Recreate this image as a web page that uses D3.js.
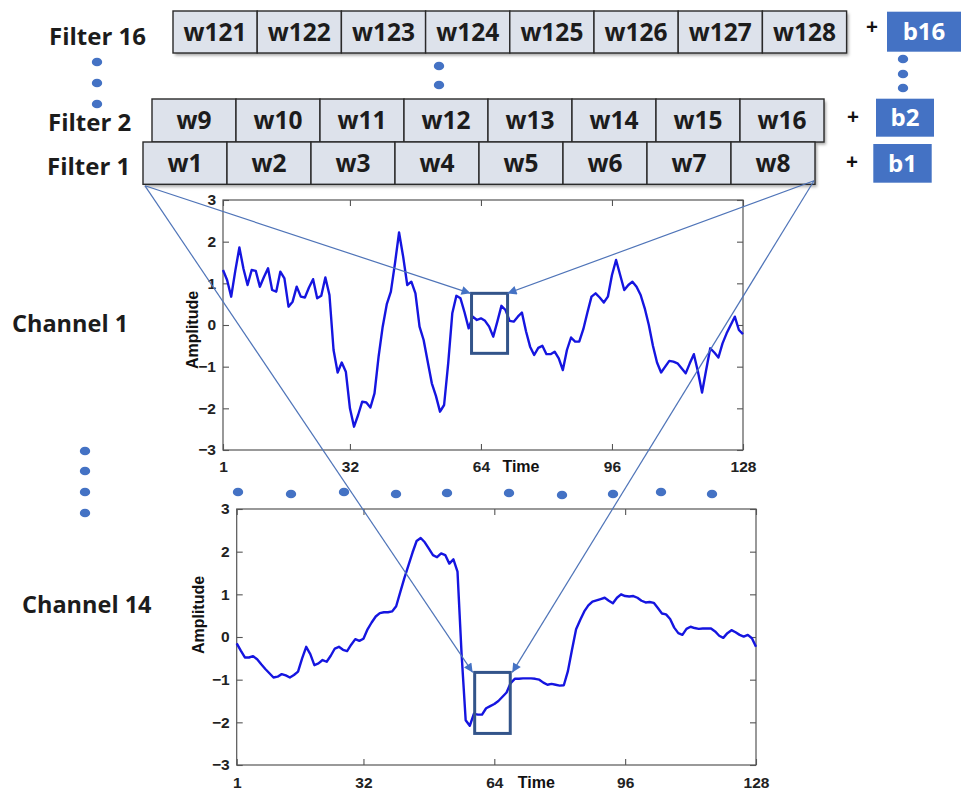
<!DOCTYPE html>
<html>
<head>
<meta charset="utf-8">
<script src="https://cdn.jsdelivr.net/npm/d3@7"></script>
<style>
  html, body { margin: 0; padding: 0; background: #fff; }
  svg { display: block; }
</style>
</head>
<body>
<svg id="chart" width="961" height="790"></svg>
<script>
// ---------------- DATA ----------------
const timeTicks = [1, 32, 64, 96, 128];
const ampTicks = [-3, -2, -1, 0, 1, 2, 3];

const filter1Weights = ["w1", "w2", "w3", "w4", "w5", "w6", "w7", "w8"];
const filter2Weights = ["w9", "w10", "w11", "w12", "w13", "w14", "w15", "w16"];
const filter16Weights = ["w121", "w122", "w123", "w124", "w125", "w126", "w127", "w128"];
const filterNames = ["Filter 16", "Filter 2", "Filter 1"];
const biasNames = ["b16", "b2", "b1"];
const channelNames = ["Channel 1", "Channel 14"];

const channel1 = [
  1.32, 1.08, 0.68, 1.30, 1.86, 1.35, 0.96, 1.32, 1.30, 0.92,
  1.15, 1.36, 0.84, 0.80, 1.28, 1.12, 0.44, 0.56, 0.92, 0.68,
  0.66, 0.90, 1.10, 0.64, 0.70, 1.14, 0.72, -0.60, -1.14, -0.90,
  -1.12, -2.00, -2.44, -2.16, -1.84, -1.86, -1.98, -1.64, -0.76, -0.04,
  0.50, 0.80, 1.48, 2.22, 1.64, 0.96, 1.04, 0.76, -0.04, -0.36,
  -0.88, -1.40, -1.70, -2.08, -1.92, -0.92, 0.28, 0.70, 0.64, 0.30,
  -0.08, 0.20, 0.12, 0.16, 0.10, -0.04, -0.28, 0.08, 0.46, 0.36,
  0.10, 0.08, 0.20, 0.30, -0.15, -0.52, -0.72, -0.55, -0.50, -0.70,
  -0.70, -0.64, -0.80, -1.08, -0.60, -0.30, -0.40, -0.40, -0.10, 0.30,
  0.68, 0.76, 0.66, 0.54, 0.68, 1.20, 1.56, 1.20, 0.84, 0.96,
  1.04, 0.92, 0.72, 0.40, 0.00, -0.50, -0.90, -1.14, -1.00, -0.86,
  -0.88, -0.92, -1.04, -1.16, -0.92, -0.70, -1.12, -1.62, -1.08, -0.56,
  -0.66, -0.78, -0.44, -0.20, 0.00, 0.20, -0.12, -0.22
];

const channel14 = [
  -0.15, -0.32, -0.48, -0.48, -0.45, -0.52, -0.64, -0.75, -0.85, -0.95,
  -0.93, -0.87, -0.90, -0.95, -0.89, -0.81, -0.50, -0.23, -0.40, -0.66,
  -0.62, -0.54, -0.58, -0.44, -0.27, -0.23, -0.30, -0.33, -0.18, -0.05,
  -0.09, -0.04, 0.18, 0.34, 0.48, 0.56, 0.58, 0.58, 0.60, 0.72,
  1.05, 1.38, 1.68, 1.98, 2.25, 2.32, 2.22, 2.07, 1.92, 1.87,
  1.96, 1.92, 1.72, 1.82, 1.53, -0.40, -1.95, -2.08, -1.80, -1.82,
  -1.82, -1.67, -1.62, -1.57, -1.50, -1.40, -1.30, -1.08, -0.98, -0.98,
  -0.97, -0.97, -0.97, -0.98, -1.00, -1.07, -1.12, -1.10, -1.12, -1.14,
  -1.13, -0.80, -0.30, 0.18, 0.40, 0.60, 0.74, 0.83, 0.86, 0.89,
  0.92, 0.85, 0.79, 0.92, 1.00, 0.96, 0.95, 0.96, 0.92, 0.85,
  0.81, 0.82, 0.80, 0.68, 0.55, 0.53, 0.42, 0.22, 0.09, 0.05,
  0.19, 0.24, 0.21, 0.19, 0.20, 0.20, 0.20, 0.13, 0.03, -0.02,
  0.09, 0.16, 0.11, 0.05, 0.01, 0.05, -0.03, -0.23
];

// receptive-field windows [tStart, tEnd, ampLow, ampHigh]
const window1 = [61.7, 70.5, -0.68, 0.76];
const window14 = [59.2, 67.9, -2.26, -0.83];

// ---------------- LAYOUT ----------------
const svg = d3.select("#chart");
const FONT = "'Open Sans', 'Noto Sans', sans-serif";
const AXFONT = "'Liberation Sans', Arial, sans-serif";
const BLUE = "#4472c4";
const LINEBLUE = "#4f74b8";

const defs = svg.append("defs");
const sh = defs.append("filter").attr("id", "shadow")
  .attr("x", "-5%").attr("y", "-20%").attr("width", "110%").attr("height", "150%");
sh.append("feDropShadow").attr("dx", 2).attr("dy", 2.5).attr("stdDeviation", 1.4)
  .attr("flood-color", "#000").attr("flood-opacity", 0.35);

defs.append("marker").attr("id", "arrow")
  .attr("viewBox", "0 0 10 10").attr("refX", 10).attr("refY", 5)
  .attr("markerWidth", 11).attr("markerHeight", 9)
  .attr("markerUnits", "userSpaceOnUse")
  .attr("orient", "auto")
  .append("path").attr("d", "M0,0 L10,5 L0,10 Z").attr("fill", BLUE);

// ---- charts ----
const charts = [
  { data: channel1, win: window1, x0: 223, x1: 743, yTop: 200, yBot: 450,
    tickPad: 11, timeDx: 40, ampX: 192, ampY: 330 },
  { data: channel14, win: window14, x0: 236.7, x1: 756, yTop: 509, yBot: 765,
    tickPad: 12, timeDx: 42, ampX: 198, ampY: 615 }
];

charts.forEach(c => {
  c.x = d3.scaleLinear().domain([1, 128]).range([c.x0, c.x1]);
  c.y = d3.scaleLinear().domain([-3, 3]).range([c.yBot, c.yTop]);
  const g = svg.append("g");

  // frame
  g.append("rect").attr("x", c.x0).attr("y", c.yTop)
    .attr("width", c.x1 - c.x0).attr("height", c.yBot - c.yTop)
    .attr("fill", "none").attr("stroke", "#555").attr("stroke-width", 1.2);

  const styleAxis = sel => {
    sel.select(".domain").remove();
    sel.selectAll(".tick line").attr("stroke", "#555").attr("stroke-width", 1.1);
    sel.selectAll(".tick text").attr("fill", "#222")
      .attr("font-family", AXFONT).attr("font-weight", "bold").attr("font-size", 15.5);
  };

  g.append("g").attr("transform", `translate(0,${c.yBot})`)
    .call(d3.axisBottom(c.x).tickValues(timeTicks).tickSizeInner(-6).tickSizeOuter(0).tickPadding(c.tickPad))
    .call(styleAxis);
  g.append("g").attr("transform", `translate(0,${c.yTop})`)
    .call(d3.axisTop(c.x).tickValues(timeTicks).tickSizeInner(-6).tickSizeOuter(0).tickFormat(""))
    .call(styleAxis);
  g.append("g").attr("transform", `translate(${c.x0},0)`)
    .call(d3.axisLeft(c.y).tickValues(ampTicks).tickSizeInner(-6).tickSizeOuter(0).tickPadding(7).tickFormat(d3.format("d")))
    .call(styleAxis);
  g.append("g").attr("transform", `translate(${c.x1},0)`)
    .call(d3.axisRight(c.y).tickValues(ampTicks).tickSizeInner(-6).tickSizeOuter(0).tickFormat(""))
    .call(styleAxis);

  g.append("text").attr("x", c.x(64) + c.timeDx).attr("y", c.yBot + c.tickPad + 11)
    .attr("text-anchor", "middle").attr("font-family", AXFONT).attr("font-weight", "bold")
    .attr("font-size", 16).attr("fill", "#111").text("Time");
  g.append("text").attr("transform", `translate(${c.ampX},${c.ampY}) rotate(-90)`)
    .attr("text-anchor", "middle").attr("dy", "0.35em").attr("font-family", AXFONT)
    .attr("font-weight", "bold").attr("font-size", 16).attr("fill", "#111").text("Amplitude");

  // signal
  const line = d3.line().x((d, i) => c.x(i + 1)).y(d => c.y(d));
  g.append("path").datum(c.data).attr("d", line)
    .attr("fill", "none").attr("stroke", "#1515e0").attr("stroke-width", 2.4)
    .attr("stroke-linejoin", "round");

  // window rect
  const w = c.win;
  c.rx0 = c.x(w[0]); c.rx1 = c.x(w[1]); c.ry0 = c.y(w[3]); c.ry1 = c.y(w[2]);
  g.append("rect").attr("x", c.rx0).attr("y", c.ry0)
    .attr("width", c.rx1 - c.rx0).attr("height", c.ry1 - c.ry0)
    .attr("fill", "none").attr("stroke", "#33548a").attr("stroke-width", 3);
});

// ---- filters ----
const rows = [
  { w: filter16Weights, x0: 173, y0: 11, h: 42, cw: 84.2, name: filterNames[0], nx: 49, nb: 45,
    bias: biasNames[0], bx: 887, bw: 74, by: 11.7, bh: 40, px: 872, py: 27 },
  { w: filter2Weights, x0: 152, y0: 99, h: 43, cw: 84, name: filterNames[1], nx: 48, nb: 131,
    bias: biasNames[1], bx: 876, bw: 58, by: 98.7, bh: 38, px: 853, py: 117 },
  { w: filter1Weights, x0: 143, y0: 142, h: 42.3, cw: 84, name: filterNames[2], nx: 47, nb: 175,
    bias: biasNames[2], bx: 873.3, bw: 58.4, by: 144, bh: 38.7, px: 852, py: 162 }
];

rows.forEach(r => {
  const g = svg.append("g");
  const xb = d3.scaleBand().domain(d3.range(r.w.length)).range([r.x0, r.x0 + r.cw * r.w.length]);
  g.append("rect").attr("x", r.x0).attr("y", r.y0)
    .attr("width", r.cw * r.w.length).attr("height", r.h)
    .attr("fill", "#dde2eb").attr("filter", "url(#shadow)");
  g.selectAll("rect.cell").data(r.w).join("rect").attr("class", "cell")
    .attr("x", (d, i) => xb(i)).attr("y", r.y0)
    .attr("width", xb.bandwidth()).attr("height", r.h)
    .attr("fill", "#dde2eb").attr("stroke", "#2a2a2a").attr("stroke-width", 1.4);
  g.selectAll("text.cell").data(r.w).join("text").attr("class", "cell")
    .attr("x", (d, i) => xb(i) + xb.bandwidth() / 2).attr("y", r.y0 + r.h / 2)
    .attr("dy", "0.36em").attr("text-anchor", "middle")
    .attr("font-family", FONT).attr("font-weight", "bold").attr("font-size", 24.5)
    .attr("fill", "#1c1c1c").text(d => d);
  svg.append("text").attr("x", r.nx).attr("y", r.nb)
    .attr("font-family", FONT).attr("font-weight", "bold").attr("font-size", 24)
    .attr("fill", "#1c1c1c").text(r.name);
  svg.append("rect").attr("x", r.bx).attr("y", r.by).attr("width", r.bw).attr("height", r.bh)
    .attr("fill", BLUE);
  svg.append("text").attr("x", r.bx + r.bw / 2).attr("y", r.by + r.bh / 2).attr("dy", "0.36em")
    .attr("text-anchor", "middle").attr("font-family", FONT).attr("font-weight", "bold")
    .attr("font-size", 24).attr("fill", "#fff").text(r.bias);
  svg.append("text").attr("x", r.px).attr("y", r.py).attr("dy", "0.35em")
    .attr("text-anchor", "middle").attr("font-family", FONT).attr("font-weight", "bold")
    .attr("font-size", 21).attr("fill", "#111").text("+");
});

// ---- channel names ----
svg.append("text").attr("x", 12).attr("y", 332)
  .attr("font-family", FONT).attr("font-weight", "bold").attr("font-size", 23.5)
  .attr("fill", "#1c1c1c").text(channelNames[0]);
svg.append("text").attr("x", 22).attr("y", 613)
  .attr("font-family", FONT).attr("font-weight", "bold").attr("font-size", 23.5)
  .attr("fill", "#1c1c1c").text(channelNames[1]);

// ---- ellipsis dots ----
const dotGroups = [
  [[97, 62], [97, 83], [97, 104]],
  [[439, 66], [439, 85]],
  [[903, 59], [903, 74], [903, 88]],
  [[85, 451], [85, 471], [85, 492], [85, 513]],
  [[238, 492], [291, 494], [344, 492], [396, 494], [447, 493], [509, 493], [562, 495], [613, 494], [661, 492], [712, 494]]
];
dotGroups.forEach(gp => {
  svg.selectAll(null).data(gp).join("ellipse")
    .attr("cx", d => d[0]).attr("cy", d => d[1]).attr("rx", 5.2).attr("ry", 4.3)
    .attr("fill", BLUE);
});

// ---- connector arrows ----
const f1 = rows[2];
const leftCorner = [f1.x0 + 2, f1.y0 + f1.h + 1.5];
const rightCorner = [f1.x0 + f1.cw * 8 - 1, f1.y0 + f1.h - 3.5];
const connectors = [
  [leftCorner, [charts[0].rx0 - 1, charts[0].ry0]],
  [rightCorner, [charts[0].rx1, charts[0].ry0]],
  [leftCorner, [charts[1].rx0 - 2, charts[1].ry0]],
  [rightCorner, [charts[1].rx1 + 2, charts[1].ry0]]
];
svg.selectAll("line.conn").data(connectors).join("line").attr("class", "conn")
  .attr("x1", d => d[0][0]).attr("y1", d => d[0][1])
  .attr("x2", d => d[1][0]).attr("y2", d => d[1][1])
  .attr("stroke", LINEBLUE).attr("stroke-width", 1.2)
  .attr("marker-end", "url(#arrow)");
</script>
</body>
</html>
